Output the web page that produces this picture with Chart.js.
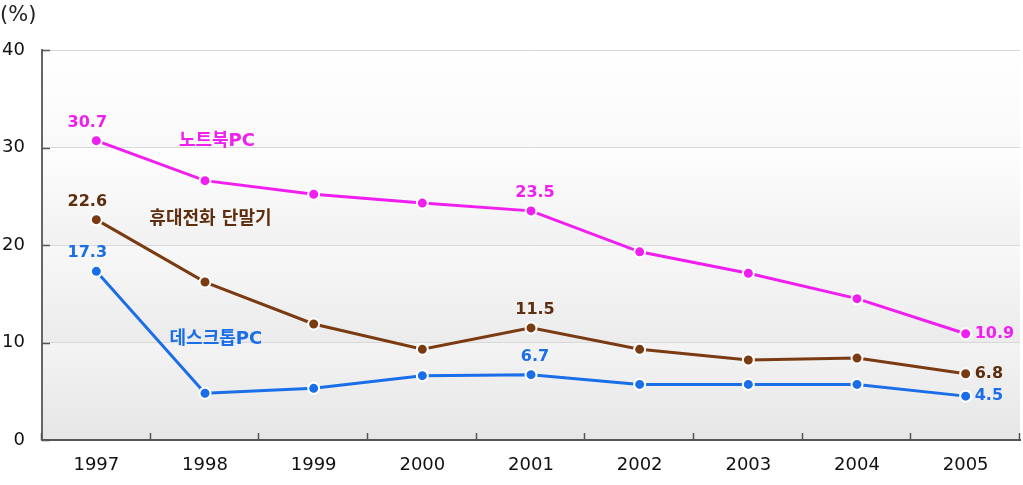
<!DOCTYPE html>
<html>
<head>
<meta charset="utf-8">
<script src="https://cdn.jsdelivr.net/npm/chart.js@4/dist/chart.umd.min.js"></script>
<style>
  html, body { margin: 0; padding: 0; background: #fff; }
</style>
</head>
<body>
<canvas id="chart" width="1023" height="485"></canvas>
<script>
// 연도
var years = ['1997', '1998', '1999', '2000', '2001', '2002', '2003', '2004', '2005'];

// 값 (%)
var notebook = [30.7, 26.6, 25.2, 24.3, 23.5, 19.3, 17.1, 14.5, 10.9];
var phone = [22.6, 16.2, 11.9, 9.3, 11.5, 9.3, 8.2, 8.4, 6.8];
var desktop = [17.3, 4.8, 5.3, 6.6, 6.7, 5.7, 5.7, 5.7, 4.5];

var seriesNames = ['노트북PC', '휴대전화 단말기', '데스크톱PC'];
var yTicks = [0, 10, 20, 30, 40];

var colors = {
    notebook: { line: '#f01ef0', text: '#f01ef0' },
    phone: { line: '#7a3a12', text: '#5e2e0e' },
    desktop: { line: '#1a6ee8', text: '#1a6ee8' }
};

// 라벨 표시할 점: [index, 위치, dx]
var labelPoints = [
    [0, 'top', -9],
    [4, 'top', 4],
    [8, 'right', 0]
];

// 시리즈 이름 위치 (카테고리 단위, 값 단위)
var namePos = [
    { x: 1.11, y: 30.6 },
    { x: 1.05, y: 22.6 },
    { x: 1.1, y: 10.3 }
];

// 밴드 배경색 (아래 -> 위)
var bandTop = ['#f3f3f3', '#f8f8f8', '#fefefe', '#ffffff'];
var bandBottom = ['#e6e6e6', '#ebebeb', '#f1f1f1', '#f9f9f9'];

var numFont = 'bold 16px "DejaVu Sans", sans-serif';
var nameFont = 'bold 18px "DejaVu Sans", "Noto Sans CJK KR", sans-serif';

var decorPlugin = {
    id: 'decor',
    beforeDraw: function (chart) {
        var ctx = chart.ctx;
        var area = chart.chartArea;
        var y = chart.scales.y;
        ctx.save();
        for (var i = 0; i < yTicks.length - 1; i++) {
            var top = y.getPixelForValue(yTicks[i + 1]);
            var bot = y.getPixelForValue(yTicks[i]);
            var g = ctx.createLinearGradient(0, top, 0, bot);
            g.addColorStop(0, bandTop[i]);
            g.addColorStop(1, bandBottom[i]);
            ctx.fillStyle = g;
            ctx.fillRect(area.left, top, area.right - area.left, bot - top);
        }
        ctx.restore();
    },
    afterDraw: function (chart) {
        var ctx = chart.ctx;
        var area = chart.chartArea;
        var x = chart.scales.x;
        var y = chart.scales.y;
        ctx.save();

        // 안쪽 눈금
        ctx.strokeStyle = '#555';
        ctx.lineWidth = 1.5;
        var step = (area.right - area.left) / years.length;
        for (var i = 0; i <= years.length; i++) {
            var px = Math.round(area.left + i * step) - 0.5;
            ctx.beginPath();
            ctx.moveTo(px, area.bottom);
            ctx.lineTo(px, area.bottom - 7);
            ctx.stroke();
        }
        yTicks.forEach(function (v) {
            var py = Math.round(y.getPixelForValue(v)) + 0.5;
            ctx.beginPath();
            ctx.moveTo(area.left, py);
            ctx.lineTo(area.left + 8, py);
            ctx.stroke();
        });

        // (%)
        ctx.fillStyle = '#222';
        ctx.font = '21px "DejaVu Sans", sans-serif';
        ctx.textAlign = 'left';
        ctx.textBaseline = 'middle';
        ctx.fillText('(%)', 0, 16);

        // 값 라벨
        ctx.font = numFont;
        chart.data.datasets.forEach(function (ds, di) {
            var meta = chart.getDatasetMeta(di);
            labelPoints.forEach(function (lp) {
                var pt = meta.data[lp[0]];
                var txt = ds.data[lp[0]].toFixed(1);
                ctx.fillStyle = ds.textColor;
                if (lp[1] === 'top') {
                    ctx.textAlign = 'center';
                    ctx.textBaseline = 'bottom';
                    ctx.fillText(txt, pt.x + lp[2], pt.y - 10);
                } else {
                    ctx.textAlign = 'left';
                    ctx.textBaseline = 'middle';
                    ctx.fillText(txt, pt.x + 9, pt.y);
                }
            });
        });

        // 시리즈 이름
        ctx.font = nameFont;
        ctx.textAlign = 'center';
        ctx.textBaseline = 'middle';
        chart.data.datasets.forEach(function (ds, di) {
            var p = namePos[di];
            var x0 = x.getPixelForValue(Math.floor(p.x));
            var x1 = x.getPixelForValue(Math.floor(p.x) + 1);
            var px = x0 + (x1 - x0) * (p.x - Math.floor(p.x));
            ctx.fillStyle = ds.textColor;
            ctx.fillText(ds.label, px, y.getPixelForValue(p.y));
        });

        ctx.restore();
    }
};

function makeSet(label, data, c) {
    return {
        label: label,
        data: data,
        textColor: c.text,
        borderColor: c.line,
        backgroundColor: c.line,
        borderWidth: 3,
        pointRadius: 5.5,
        pointBorderWidth: 2,
        pointBorderColor: '#ffffff',
        pointBackgroundColor: c.line,
        tension: 0
    };
}

new Chart(document.getElementById('chart').getContext('2d'), {
    type: 'line',
    data: {
        labels: years,
        datasets: [
            makeSet(seriesNames[0], notebook, colors.notebook),
            makeSet(seriesNames[1], phone, colors.phone),
            makeSet(seriesNames[2], desktop, colors.desktop)
        ]
    },
    options: {
        responsive: false,
        animation: false,
        devicePixelRatio: 1,
        layout: { autoPadding: false, padding: { left: 0, right: 3, top: 50, bottom: 0 } },
        plugins: {
            legend: { display: false },
            tooltip: { enabled: false }
        },
        scales: {
            x: {
                offset: true,
                grid: { display: false, drawTicks: false },
                border: { display: true, color: '#555', width: 2 },
                ticks: {
                    color: '#111',
                    font: { family: '"DejaVu Sans", sans-serif', size: 18 },
                    padding: 15,
                    maxRotation: 0
                },
                afterFit: function (s) {
                    s.height = 45;
                    s.paddingLeft = 0;
                    s.paddingRight = 0;
                }
            },
            y: {
                min: 0,
                max: 40,
                grid: { color: '#d8d8d8', lineWidth: 1, drawTicks: false },
                border: { display: true, color: '#666', width: 2 },
                ticks: {
                    stepSize: 10,
                    color: '#111',
                    font: { family: '"DejaVu Sans", sans-serif', size: 18 },
                    padding: 17
                },
                afterFit: function (s) { s.width = 42; }
            }
        }
    },
    plugins: [decorPlugin]
});
</script>
</body>
</html>
